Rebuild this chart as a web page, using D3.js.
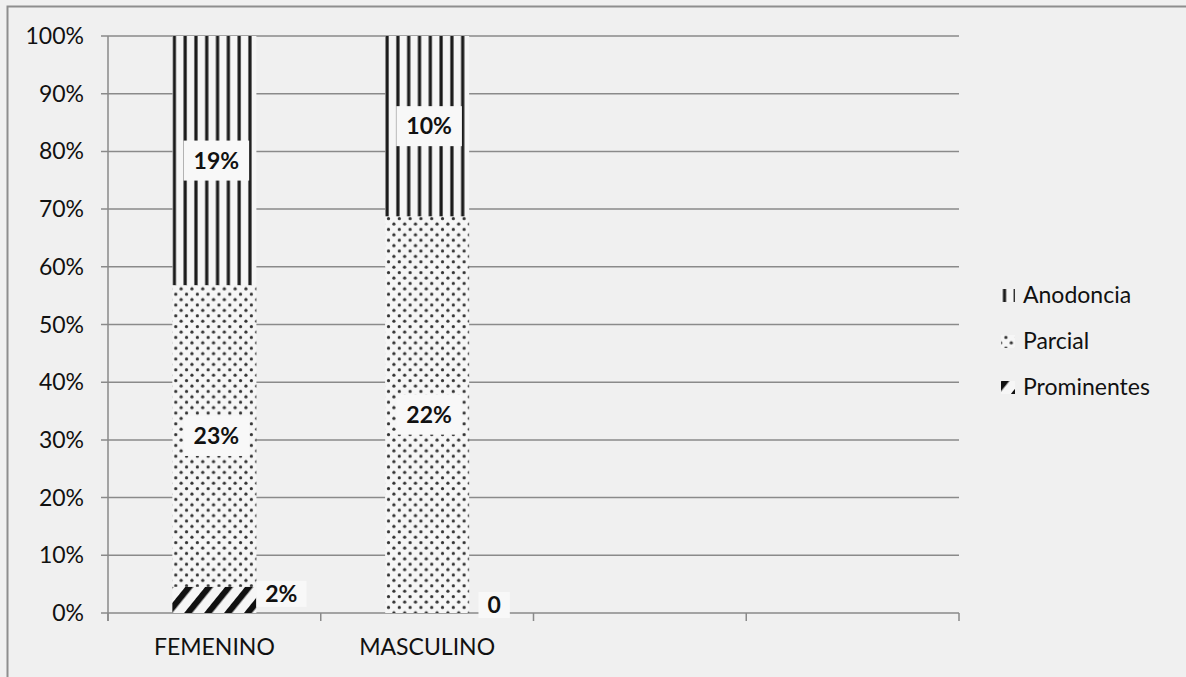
<!DOCTYPE html>
<html>
<head>
<meta charset="utf-8">
<script src="https://cdn.jsdelivr.net/npm/d3@7"></script>
<style>
  html, body { margin: 0; padding: 0; background: #f0f0f0; }
  svg { display: block; }
  text { font-family: Lato, "Open Sans", sans-serif; fill: #111; }
</style>
</head>
<body>
<script>
// Category slots on the x axis (the last two are empty)
const categories = ["FEMENINO", "MASCULINO", "", ""];
// Counts per sex
const anodoncia   = [19, 10];
const parcial     = [23, 22];
const prominentes = [2, 0];
// Series, bottom to top of the stack
const seriesNames = ["Prominentes", "Parcial", "Anodoncia"];
const yTicks = [0, 0.1, 0.2, 0.3, 0.4, 0.5, 0.6, 0.7, 0.8, 0.9, 1];

const W = 1186, H = 677;
const margin = { left: 108, right: 227, top: 36, bottom: 64 };
const plotW = W - margin.left - margin.right;
const plotH = H - margin.top - margin.bottom;

const svg = d3.select("body").append("svg").attr("width", W).attr("height", H);
const defs = svg.append("defs");

// Frame around the chart area
svg.append("path")
  .attr("d", `M7.5,${H} V6.5 H${W}`)
  .attr("fill", "none").attr("stroke", "#8e8e8e").attr("stroke-width", 2);

const x = d3.scaleBand().domain(d3.range(categories.length))
  .range([margin.left, margin.left + plotW]).padding(0);
const y = d3.scaleLinear().domain([0, 1]).range([margin.top + plotH, margin.top]);
const barW = x.bandwidth() * 0.395;

const rows = anodoncia.map((_, i) => ({
  idx: i,
  Anodoncia: anodoncia[i], Parcial: parcial[i], Prominentes: prominentes[i]
}));
const stack = d3.stack().keys(seriesNames).offset(d3.stackOffsetExpand);
const stacked = stack(rows);

// Fill patterns, anchored at a given x so each bar starts on a clean tile
function makePattern(id, name, ox) {
  if (name === "Anodoncia") {
    const p = defs.append("pattern").attr("id", id).attr("patternUnits", "userSpaceOnUse")
      .attr("x", ox).attr("y", 0).attr("width", 10.8).attr("height", 10);
    p.append("rect").attr("width", 10.8).attr("height", 10).attr("fill", "#f6f6f6");
    p.append("rect").attr("x", 0.4).attr("width", 3.2).attr("height", 10).attr("fill", "#1a1a1a");
  } else if (name === "Parcial") {
    const p = defs.append("pattern").attr("id", id).attr("patternUnits", "userSpaceOnUse")
      .attr("x", ox).attr("y", 0).attr("width", 10.8).attr("height", 10.8);
    p.append("rect").attr("width", 10.8).attr("height", 10.8).attr("fill", "#f6f6f6");
    p.append("circle").attr("cx", 3.4).attr("cy", 2.6).attr("r", 1.6).attr("fill", "#333");
    p.append("circle").attr("cx", 8.8).attr("cy", 8.0).attr("r", 1.6).attr("fill", "#333");
  } else {
    const p = defs.append("pattern").attr("id", id).attr("patternUnits", "userSpaceOnUse")
      .attr("x", ox).attr("y", 0).attr("width", 15.5).attr("height", 20)
      .attr("patternTransform", "rotate(39)");
    p.append("rect").attr("width", 15.5).attr("height", 20).attr("fill", "#f6f6f6");
    p.append("rect").attr("x", 0).attr("width", 6.2).attr("height", 20).attr("fill", "#111");
  }
}

// Gridlines
const g = svg.append("g");
g.selectAll("line.grid").data(yTicks).join("line")
  .attr("x1", margin.left - 7).attr("x2", margin.left + plotW)
  .attr("y1", d => y(d)).attr("y2", d => y(d))
  .attr("stroke", "#8a8a8a").attr("stroke-width", 1.5);

// Y axis line and category tick marks
g.append("line")
  .attr("x1", margin.left).attr("x2", margin.left)
  .attr("y1", y(1)).attr("y2", y(0) + 8)
  .attr("stroke", "#8a8a8a").attr("stroke-width", 1.5);
const boundaries = d3.range(categories.length + 1).map(i => margin.left + i * x.step());
g.selectAll("line.xt").data(boundaries).join("line")
  .attr("x1", d => d).attr("x2", d => d)
  .attr("y1", y(0)).attr("y2", y(0) + 8)
  .attr("stroke", "#8a8a8a").attr("stroke-width", 1.5);

// Y tick labels
g.selectAll("text.yl").data(yTicks).join("text")
  .attr("x", margin.left - 24).attr("y", d => y(d) + 8)
  .attr("text-anchor", "end").attr("font-size", 23)
  .text(d => d3.format(".0%")(d));

// X labels
g.selectAll("text.xl").data(categories).join("text")
  .attr("x", (d, i) => x(i) + x.bandwidth() / 2).attr("y", 655)
  .attr("text-anchor", "middle").attr("font-size", 23)
  .text(d => d);

// Bars
const bars = svg.append("g");
stacked.forEach(s => {
  s.forEach((d, i) => {
    const bx = x(i) + (x.bandwidth() - barW) / 2;
    const id = `pat-${s.key}-${i}`;
    makePattern(id, s.key, bx);
    bars.append("rect")
      .attr("x", bx).attr("width", barW)
      .attr("y", y(d[1])).attr("height", y(d[0]) - y(d[1]))
      .attr("fill", `url(#${id})`);
  });
});

// Data labels
const lab = svg.append("g");
stacked.forEach(s => {
  s.forEach((d, i) => {
    const v = d.data[s.key];
    const bx = x(i) + (x.bandwidth() - barW) / 2;
    const segH = y(d[0]) - y(d[1]);
    const txt = v > 0 ? v + "%" : "0";
    let cx, cy, padX, padY;
    if (segH > 40) {
      cx = bx + barW / 2 + 2; cy = y((d[0] + d[1]) / 2); padX = 10; padY = 11;
    } else {
      cx = bx + barW + 25; cy = Math.min(y((d[0] + d[1]) / 2) - 6, y(0) - 8); padX = 9; padY = 4;
    }
    const gg = lab.append("g");
    const t = gg.append("text").attr("x", cx).attr("y", cy + 8)
      .attr("text-anchor", "middle").attr("font-size", 23).attr("font-weight", "bold")
      .text(txt);
    const bb = t.node().getBBox();
    gg.insert("rect", "text")
      .attr("x", bb.x - padX).attr("y", cy - 9 - padY)
      .attr("width", bb.width + 2 * padX).attr("height", 18 + 2 * padY)
      .attr("fill", "#f8f8f8");
  });
});

// Legend
const legend = svg.append("g");
const legendItems = ["Anodoncia", "Parcial", "Prominentes"];
legendItems.forEach((name, k) => {
  const cy = 295 + k * 46;
  const sx = 1001;
  const id = `leg-${name}`;
  makePattern(id, name, sx + 1.5);
  legend.append("rect").attr("x", sx).attr("y", cy - 6).attr("width", 14).attr("height", 13)
    .attr("fill", `url(#${id})`);
  legend.append("text").attr("x", 1023).attr("y", cy + 8).attr("font-size", 23).text(name);
});
</script>
</body>
</html>
